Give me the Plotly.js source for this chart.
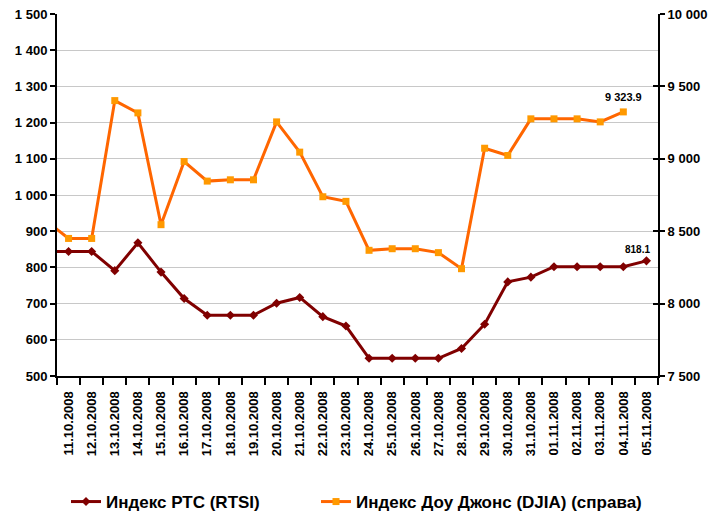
<!DOCTYPE html>
<html>
<head>
<meta charset="utf-8">
<script src="https://cdn.plot.ly/plotly-3.0.1.min.js"></script>
<style>html,body{margin:0;padding:0;background:#fff;}#chart{width:724px;height:517px;}</style>
</head>
<body>
<div id="chart"></div>
<script>
// Categories (index 0..25); an extra earlier point (10.10.2008) sits at -1, clipped by the axis range
const dates = ["11.10.2008","12.10.2008","13.10.2008","14.10.2008","15.10.2008","16.10.2008","17.10.2008","18.10.2008","19.10.2008","20.10.2008","21.10.2008","22.10.2008","23.10.2008","24.10.2008","25.10.2008","26.10.2008","27.10.2008","28.10.2008","29.10.2008","30.10.2008","31.10.2008","01.11.2008","02.11.2008","03.11.2008","04.11.2008","05.11.2008"];
const prevRtsi = 844;
const prevDjia = 8575;
const rtsi = [844,844,791,868,787,714,668,668,668,701,717,664,638,549,549,549,549,576,643,760,773,802,802,802,802,818.1];
const djia = [8450,8450,9402,9317,8545,8981,8846,8855,8855,9255,9046,8738,8706,8368,8379,8379,8352,8241,9073,9023,9276,9276,9276,9255,9323.9,null];
const rtsiName = "Индекс РТС (RTSI)";
const djiaName = "Индекс Доу Джонс (DJIA) (справа)";
const lastDjiaLabel = "9 323.9";
const lastRtsiLabel = "818.1";

const idx = dates.map((d,i)=>i);
const xs = [-1].concat(idx);

const traces = [
  {
    x: xs, y: [prevRtsi].concat(rtsi), name: rtsiName, type: 'scatter', mode: 'lines+markers',
    line: {color: '#800000', width: 3},
    marker: {symbol: 'diamond', size: 7, color: '#800000'},
    yaxis: 'y', cliponaxis: true, legend: 'legend'
  },
  {
    x: xs, y: [prevDjia].concat(djia), name: djiaName, type: 'scatter', mode: 'lines+markers',
    line: {color: '#FF6600', width: 3},
    marker: {symbol: 'square', size: 7, color: '#FF9900'},
    yaxis: 'y2', cliponaxis: true, legend: 'legend2'
  },
  {
    x: [0], y: [8000], yaxis: 'y3', type: 'scatter', mode: 'markers',
    marker: {opacity: 0}, showlegend: false, hoverinfo: 'skip'
  }
];

const fontFam = 'Arial, "Liberation Sans", sans-serif';
const legendFont = {family: fontFam, size: 17, weight: 'bold', color: '#000'};
const layout = {
  width: 724, height: 517,
  margin: {l: 57, r: 66, t: 14, b: 141, autoexpand: false},
  paper_bgcolor: '#fff', plot_bgcolor: '#fff',
  separators: '. ',
  font: {family: fontFam, color: '#000'},
  showlegend: true,
  legend: {
    orientation: 'h', xref: 'container', yref: 'container',
    x: 66/724, xanchor: 'left', y: 0.029, yanchor: 'middle',
    font: legendFont, bgcolor: 'rgba(0,0,0,0)'
  },
  legend2: {
    orientation: 'h', xref: 'container', yref: 'container',
    x: 316/724, xanchor: 'left', y: 0.029, yanchor: 'middle',
    font: legendFont, bgcolor: 'rgba(0,0,0,0)'
  },
  xaxis: {
    range: [-0.5, 25.5],
    tickmode: 'array', tickvals: idx, ticktext: dates,
    tickangle: -90,
    ticks: 'outside', ticklen: 8, tickcolor: 'rgba(0,0,0,0)',
    tickfont: {family: fontFam, size: 13, weight: 'bold', color: '#000'},
    showline: true, linecolor: '#000', linewidth: 2,
    showgrid: false, zeroline: false, automargin: false,
    minor: {tickmode: 'linear', tick0: -0.5, dtick: 1, ticks: 'outside', ticklen: 7, tickcolor: '#000', tickwidth: 2, showgrid: false}
  },
  yaxis: {
    range: [500, 1500], dtick: 100, tick0: 500,
    tickformat: ',d', separatethousands: true,
    ticks: 'outside', ticklen: 5, tickwidth: 2, tickcolor: '#000',
    tickfont: {family: fontFam, size: 13, weight: 'bold', color: '#000'},
    showline: true, linecolor: '#000', linewidth: 2,
    showgrid: true, gridcolor: '#c8c8c8', gridwidth: 1,
    zeroline: false, automargin: false
  },
  yaxis2: {
    range: [7500, 10000], dtick: 500, tick0: 7500,
    overlaying: 'y', side: 'right',
    tickformat: ',d', separatethousands: true,
    ticks: 'outside', ticklen: 5, tickwidth: 2, tickcolor: '#000',
    tickfont: {family: fontFam, size: 13, weight: 'bold', color: '#000'},
    showline: true, linecolor: '#000', linewidth: 2,
    showgrid: false, zeroline: false, automargin: false
  },
  yaxis3: {
    range: [7500, 10000], dtick: 500, tick0: 7500,
    overlaying: 'y', side: 'right',
    ticks: 'inside', ticklen: 5, tickwidth: 2, tickcolor: '#000',
    showticklabels: false, showline: false, showgrid: false, zeroline: false
  },
  annotations: [
    {x: 24, y: djia[24], xref: 'x', yref: 'y2', text: lastDjiaLabel, showarrow: false,
     yshift: 15, font: {family: fontFam, size: 11, weight: 'bold', color: '#000'}},
    {x: 25, y: rtsi[25], xref: 'x', yref: 'y', text: lastRtsiLabel, showarrow: false,
     xshift: -9, yshift: 11, font: {family: fontFam, size: 10, weight: 'bold', color: '#000'}}
  ]
};

Plotly.newPlot('chart', traces, layout, {staticPlot: true, displayModeBar: false});
</script>
</body>
</html>
